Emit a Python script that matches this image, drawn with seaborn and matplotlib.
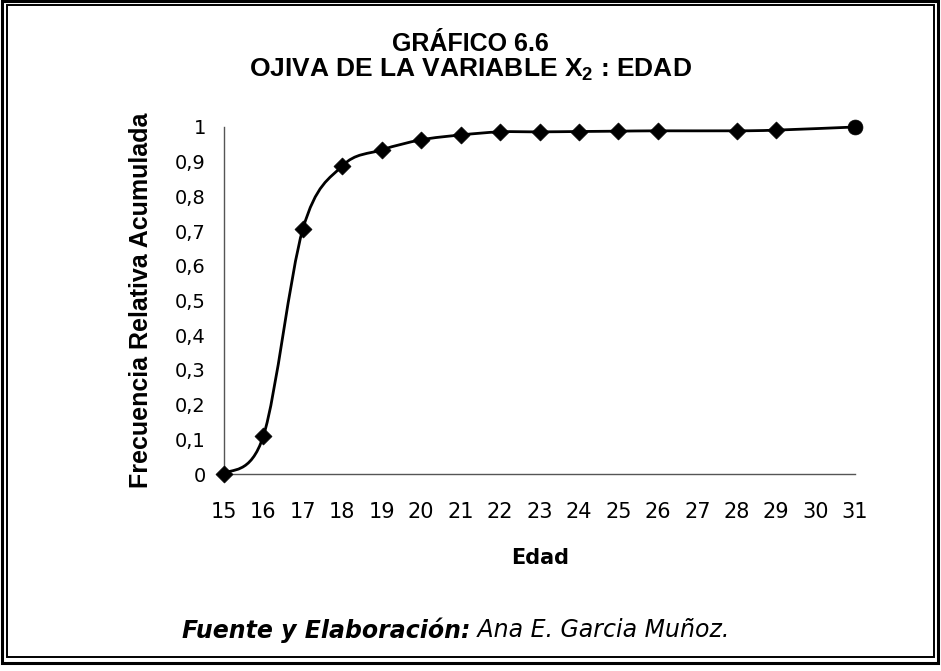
import numpy as np
import pandas as pd
import matplotlib
matplotlib.use("Agg")
import matplotlib.pyplot as plt
import seaborn as sns
from matplotlib.path import Path
from matplotlib.patches import PathPatch, Rectangle

# ---- data ----
edad = [15, 16, 17, 18, 19, 20, 21, 22, 23, 24, 25, 26, 28, 29, 31]
frec_acum = [0.0, 0.11, 0.706, 0.888, 0.934, 0.963, 0.977, 0.986,
             0.986, 0.987, 0.988, 0.989, 0.989, 0.991, 1.0]
x_ticks = list(range(15, 32))
y_ticks = [0, 0.1, 0.2, 0.3, 0.4, 0.5, 0.6, 0.7, 0.8, 0.9, 1.0]
y_labels = ["0", "0,1", "0,2", "0,3", "0,4", "0,5", "0,6", "0,7", "0,8", "0,9", "1"]
title1 = "GRÁFICO 6.6"
title2 = "OJIVA DE LA VARIABLE X$_{2}$ : EDAD"
y_title = "Frecuencia Relativa Acumulada"
x_title = "Edad"
fuente_bold = "Fuente y Elaboración:"
fuente_rest = " Ana E. Garcia Muñoz."

df = pd.DataFrame({"edad": edad, "frec": frec_acum})

sns.set_style("white")
plt.rcParams["font.family"] = ["DejaVu Sans"]
plt.rcParams["text.color"] = "black"
plt.rcParams["axes.labelcolor"] = "black"
plt.rcParams["xtick.color"] = "black"
plt.rcParams["ytick.color"] = "black"
plt.rcParams["mathtext.fontset"] = "custom"
plt.rcParams["mathtext.bf"] = "Liberation Sans:bold"
plt.rcParams["mathtext.rm"] = "Liberation Sans:bold"
plt.rcParams["mathtext.default"] = "bf"

W, H = 941, 671
fig = plt.figure(figsize=(W / 100, H / 100), dpi=100)
fig.patch.set_facecolor("white")

x0, x1, y0, y1 = 224, 855, 474, 127
ax = fig.add_axes([x0 / W, 1 - y0 / H, (x1 - x0) / W, (y0 - y1) / H])
ax.set_facecolor("white")

# smoothed ogive curve (Excel-style Bezier smoothing through the points)
xs = np.array(edad, dtype=float)
ys = np.array(frec_acum, dtype=float)
pts = np.column_stack([xs, ys])
n = len(pts)
verts = [tuple(pts[0])]
codes = [Path.MOVETO]
for i in range(n - 1):
    p0 = pts[i - 1] if i > 0 else pts[i]
    p1 = pts[i]
    p2 = pts[i + 1]
    p3 = pts[i + 2] if i + 2 < n else pts[i + 1]
    c1 = p1 + (p2 - p0) / 6.0
    c2 = p2 - (p3 - p1) / 6.0
    verts += [tuple(c1), tuple(c2), tuple(p2)]
    codes += [Path.CURVE4] * 3
curve = PathPatch(Path(verts, codes), facecolor="none", edgecolor="black",
                  lw=2.0, transform=ax.transData, clip_on=False, zorder=2)
ax.add_patch(curve)

sns.scatterplot(data=df.iloc[:-1], x="edad", y="frec", marker="D", s=75,
                color="black", edgecolor="black", linewidth=0.5, ax=ax,
                clip_on=False, zorder=3, legend=False)
sns.scatterplot(data=df.iloc[-1:], x="edad", y="frec", marker="o", s=115,
                color="black", edgecolor="black", linewidth=0.5, ax=ax,
                clip_on=False, zorder=3, legend=False)

ax.set_xlim(15, 31)
ax.set_ylim(0, 1)
ax.set_xticks(x_ticks)
ax.set_xticklabels([str(v) for v in x_ticks])
ax.set_yticks(y_ticks)
ax.set_yticklabels(y_labels)
ax.set_xlabel("")
ax.set_ylabel("")

for s in ["top", "right"]:
    ax.spines[s].set_visible(False)
for s in ["left", "bottom"]:
    ax.spines[s].set_color("#555555")
    ax.spines[s].set_linewidth(1.0)

ax.tick_params(axis="x", direction="out", length=6, width=0.9, color="#555555",
               pad=14, labelsize=15, labelcolor="black")
ax.tick_params(axis="y", direction="out", length=5, width=0.9, color="#555555",
               pad=8, labelsize=14, labelcolor="black")

# titles
fig.text(470 / W, 1 - 44 / H, title1, ha="center", va="center",
         fontsize=18, fontweight="bold", family="Liberation Sans", color="black")
fig.text(470 / W, 1 - 70 / H, title2, ha="center", va="center",
         fontsize=19, fontweight="bold", family="Liberation Sans", color="black")

fig.text(141 / W, 1 - 300 / H, y_title, ha="center", va="center", rotation=90,
         fontsize=18, fontweight="bold", family="Liberation Sans", color="black")
fig.text(540 / W, 1 - 558 / H, x_title, ha="center", va="center",
         fontsize=15, fontweight="bold", family="DejaVu Sans", color="black")

t1 = fig.text(182 / W, 1 - 630 / H, fuente_bold, ha="left", va="center",
              fontsize=17, fontweight="bold", style="italic", family="DejaVu Sans",
              color="black")
ax.annotate(fuente_rest, xy=(1, 0.5), xycoords=t1, ha="left", va="center",
            fontsize=17, style="italic", family="DejaVu Sans", color="black",
            annotation_clip=False)

# double frame
fig.patches.append(Rectangle((1.5 / W, 1 - 663 / H), (937.5 - 1.5) / W, (663 - 1) / H,
                             transform=fig.transFigure, fill=False,
                             edgecolor="black", lw=2.2, figure=fig))
fig.patches.append(Rectangle((7 / W, 1 - 657 / H), (933.5 - 7) / W, (657 - 5) / H,
                             transform=fig.transFigure, fill=False,
                             edgecolor="black", lw=1.4, figure=fig))

fig.savefig("out.png", dpi=100, facecolor="white")
